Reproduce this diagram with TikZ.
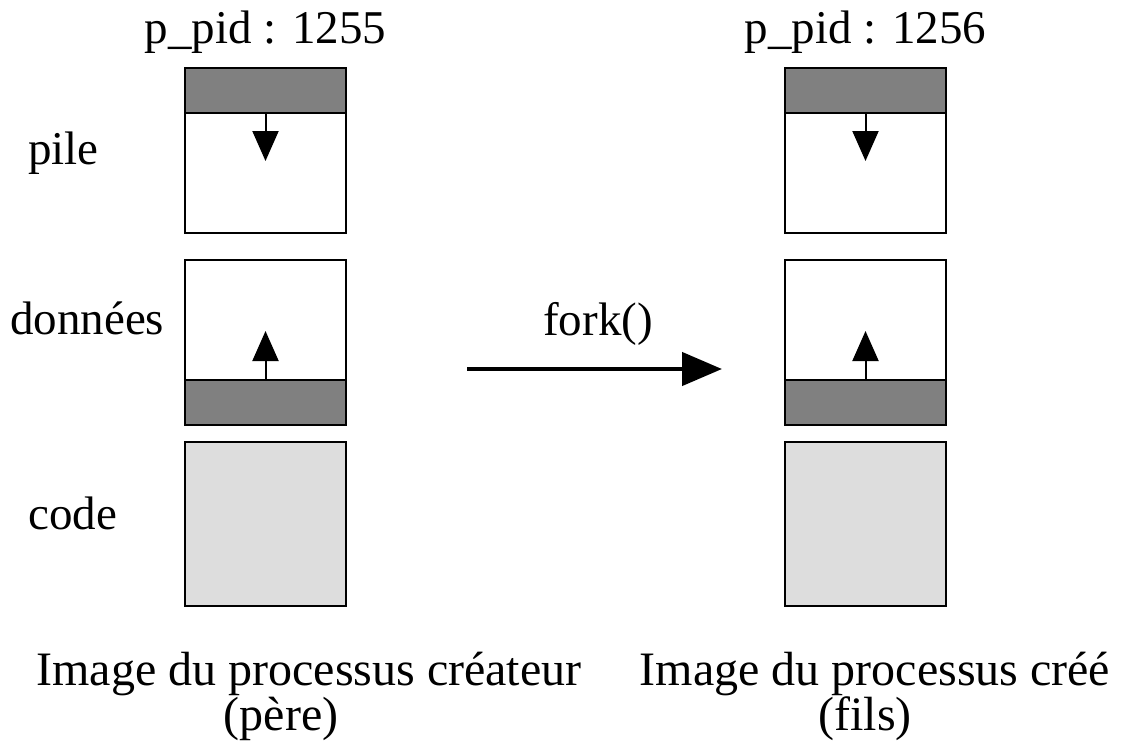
\documentclass[tikz,border=0pt]{standalone}
\usepackage{fontspec}
\setmainfont{Liberation Serif}
\usetikzlibrary{arrows.meta, positioning}
\definecolor{bandgray}{HTML}{808080}
\definecolor{codegray}{HTML}{DDDDDD}

\begin{document}
\begin{tikzpicture}[x=1pt, y=-1pt, >={Triangle[length=30pt, width=26pt]},
  zone/.style={draw, line width=2.5pt, minimum width=161pt, minimum height=165pt, inner sep=0pt, outer sep=0pt},
  band/.style={zone, fill=bandgray, minimum height=45pt},
  txt/.style={font=\fontsize{47}{47}\selectfont, inner sep=0pt},
  legende/.style={font=\fontsize{48}{48}\selectfont, inner sep=0pt}]
\useasboundingbox (0,0) rectangle (1125,742);

\foreach \c/\x/\pid in {A/265.5/1255, B/865.5/1256} {
  \node[txt, anchor=base] (pid\c) at (\x,43) {p\_pid : \pid};
  \node[zone] (pile\c) at (\x,150.5) {};
  \node[band, anchor=north] (top\c) at (pile\c.north) {};
  \coordinate (bas\c) at (\x,161);
  \draw[->, line width=2pt] (top\c.south) -- (bas\c);
  \node[zone] (data\c) at (\x,342.5) {};
  \node[band, anchor=south] (bot\c) at (data\c.south) {};
  \coordinate (haut\c) at (\x,331);
  \draw[->, line width=2pt] (bot\c.north) -- (haut\c);
  \node[zone, fill=codegray, minimum height=164pt] (code\c) at (\x,524) {};
}

\node[txt, anchor=base west] (pile) at (28,164) {pile};
\node[txt, anchor=base west] (donnees) at (10,334) {données};
\node[txt, anchor=base west] (code) at (28,529) {code};

% fork
\coordinate (depart) at (467,369);
\coordinate (arrivee) at (722,369);
\draw[->, line width=4.5pt, >={Triangle[length=40pt, width=33pt]}] (depart) -- (arrivee);
\node[txt, anchor=base] (fork) at (598,335) {fork()};

\node[legende, anchor=base] (imgA) at (309,685) {Image du processus créateur};
\node[legende, anchor=base] (pere) at (281,730) {(père)};
\node[legende, anchor=base] (imgB) at (875,685) {Image du processus créé};
\node[legende, anchor=base] (fils) at (865,730) {(fils)};
\end{tikzpicture}
\end{document}
